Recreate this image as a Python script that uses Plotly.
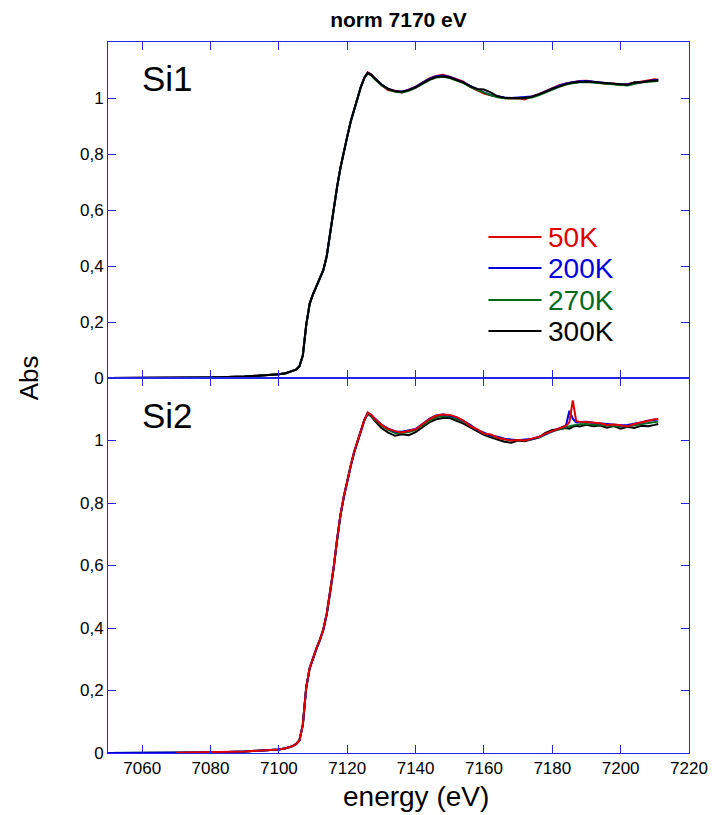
import plotly.graph_objects as go

# ---------------- data ----------------
energy = [7050, 7060, 7070, 7080, 7090, 7095, 7100, 7102, 7104, 7105, 7106, 7107, 7108, 7109,
          7110, 7111, 7112, 7113, 7114, 7115, 7116, 7117, 7118, 7119, 7120, 7121, 7122, 7123,
          7124, 7125, 7126, 7127, 7128, 7130, 7132, 7134, 7136, 7138, 7140, 7142, 7144, 7146,
          7148, 7150, 7152, 7154, 7156, 7158, 7160, 7162, 7164, 7166, 7168, 7170, 7172, 7174,
          7176, 7178, 7180, 7182, 7184, 7185, 7186, 7187, 7188, 7190, 7192, 7194, 7196, 7198,
          7200, 7202, 7204, 7206, 7208, 7210, 7211]

si1_50K = [0.000, 0.000, 0.001, 0.002, 0.005, 0.008, 0.013, 0.017, 0.024, 0.030, 0.042, 0.080, 0.190, 0.265,
           0.300, 0.330, 0.355, 0.386, 0.436, 0.520, 0.590, 0.681, 0.750, 0.811, 0.863, 0.915, 0.959, 1.001,
           1.041, 1.073, 1.092, 1.085, 1.072, 1.046, 1.028, 1.026, 1.020, 1.030, 1.040, 1.055, 1.070, 1.079,
           1.083, 1.076, 1.066, 1.058, 1.040, 1.028, 1.016, 1.010, 1.004, 1.000, 0.998, 0.999, 0.995, 1.006,
           1.014, 1.024, 1.036, 1.046, 1.052, 1.054, 1.057, 1.058, 1.061, 1.062, 1.058, 1.054, 1.050, 1.052,
           1.046, 1.050, 1.054, 1.060, 1.064, 1.067, 1.065]
si1_200K = [0.000, 0.000, 0.001, 0.002, 0.005, 0.008, 0.013, 0.017, 0.024, 0.030, 0.042, 0.079, 0.189, 0.265,
            0.300, 0.330, 0.355, 0.385, 0.435, 0.519, 0.590, 0.680, 0.750, 0.810, 0.862, 0.915, 0.958, 1.000,
            1.040, 1.072, 1.090, 1.084, 1.071, 1.049, 1.032, 1.024, 1.023, 1.029, 1.040, 1.054, 1.068, 1.078,
            1.080, 1.075, 1.066, 1.056, 1.043, 1.030, 1.020, 1.011, 1.006, 1.002, 1.000, 1.001, 1.002, 1.005,
            1.013, 1.024, 1.034, 1.044, 1.052, 1.055, 1.056, 1.058, 1.060, 1.061, 1.059, 1.056, 1.053, 1.050,
            1.048, 1.049, 1.053, 1.058, 1.062, 1.064, 1.064]
si1_270K = [0.000, 0.000, 0.001, 0.002, 0.005, 0.008, 0.013, 0.017, 0.024, 0.030, 0.042, 0.080, 0.190, 0.265,
            0.300, 0.330, 0.355, 0.385, 0.435, 0.520, 0.590, 0.680, 0.750, 0.810, 0.862, 0.915, 0.958, 1.000,
            1.040, 1.071, 1.088, 1.081, 1.068, 1.046, 1.031, 1.022, 1.020, 1.026, 1.036, 1.050, 1.064, 1.073,
            1.076, 1.071, 1.062, 1.053, 1.040, 1.028, 1.019, 1.010, 1.003, 0.999, 0.998, 0.998, 0.999, 1.002,
            1.010, 1.020, 1.031, 1.040, 1.048, 1.051, 1.053, 1.054, 1.056, 1.057, 1.055, 1.053, 1.050, 1.047,
            1.045, 1.045, 1.050, 1.056, 1.058, 1.060, 1.061]
si1_300K = [0.000, 0.000, 0.001, 0.002, 0.005, 0.008, 0.013, 0.017, 0.024, 0.030, 0.042, 0.080, 0.190, 0.265,
            0.300, 0.330, 0.355, 0.385, 0.435, 0.520, 0.590, 0.680, 0.750, 0.810, 0.862, 0.915, 0.958, 1.000,
            1.040, 1.072, 1.090, 1.082, 1.070, 1.048, 1.033, 1.024, 1.022, 1.028, 1.038, 1.052, 1.066, 1.075,
            1.078, 1.073, 1.064, 1.055, 1.042, 1.032, 1.030, 1.020, 1.006, 1.001, 1.000, 1.000, 1.001, 1.004,
            1.012, 1.022, 1.033, 1.042, 1.050, 1.053, 1.055, 1.056, 1.058, 1.059, 1.057, 1.055, 1.052, 1.049,
            1.047, 1.047, 1.056, 1.055, 1.060, 1.062, 1.063]

si2_50K = [None, None, 0.001, 0.002, 0.005, 0.008, 0.011, 0.015, 0.022, 0.028, 0.040, 0.090, 0.210, 0.272,
           0.306, 0.336, 0.363, 0.396, 0.446, 0.512, 0.592, 0.682, 0.761, 0.821, 0.873, 0.919, 0.963, 0.999,
           1.033, 1.066, 1.090, 1.082, 1.070, 1.050, 1.037, 1.030, 1.026, 1.031, 1.036, 1.052, 1.068, 1.079,
           1.083, 1.082, 1.075, 1.064, 1.046, 1.036, 1.022, 1.019, 1.009, 1.004, 1.000, 1.002, 1.000, 1.006,
           1.011, 1.022, 1.030, 1.040, 1.047, 1.058, 1.128, 1.062, 1.060, 1.059, 1.058, 1.055, 1.050, 1.051,
           1.049, 1.045, 1.053, 1.058, 1.064, 1.068, 1.069]
si2_200K = [0.000, 0.000, 0.001, 0.002, 0.005, 0.008, 0.011, 0.015, 0.022, 0.028, 0.040, 0.090, 0.209, 0.271,
            0.305, 0.335, 0.362, 0.395, 0.445, 0.511, 0.591, 0.681, 0.760, 0.820, 0.872, 0.918, 0.962, 0.998,
            1.032, 1.065, 1.088, 1.083, 1.071, 1.051, 1.038, 1.029, 1.028, 1.032, 1.037, 1.053, 1.069, 1.080,
            1.083, 1.080, 1.074, 1.063, 1.050, 1.034, 1.025, 1.016, 1.012, 1.006, 1.003, 1.001, 1.003, 1.005,
            1.011, 1.021, 1.031, 1.039, 1.047, 1.095, 1.070, 1.058, 1.059, 1.060, 1.057, 1.055, 1.053, 1.050,
            1.049, 1.050, 1.053, 1.058, 1.063, 1.066, 1.068]
si2_270K = [0.000, 0.000, 0.001, 0.002, 0.005, 0.008, 0.011, 0.015, 0.022, 0.028, 0.040, 0.090, 0.210, 0.272,
            0.305, 0.335, 0.362, 0.395, 0.445, 0.510, 0.590, 0.680, 0.760, 0.820, 0.872, 0.918, 0.962, 0.998,
            1.032, 1.065, 1.086, 1.079, 1.067, 1.047, 1.034, 1.024, 1.024, 1.027, 1.033, 1.048, 1.063, 1.074,
            1.078, 1.078, 1.070, 1.060, 1.046, 1.033, 1.022, 1.015, 1.009, 1.004, 1.001, 1.000, 1.001, 1.004,
            1.009, 1.019, 1.029, 1.036, 1.043, 1.046, 1.048, 1.050, 1.052, 1.053, 1.052, 1.051, 1.048, 1.046,
            1.045, 1.046, 1.049, 1.053, 1.057, 1.060, 1.061]
si2_300K = [0.000, 0.000, 0.001, 0.002, 0.005, 0.008, 0.011, 0.015, 0.022, 0.028, 0.040, 0.090, 0.208, 0.270,
            0.304, 0.334, 0.361, 0.394, 0.444, 0.510, 0.590, 0.680, 0.759, 0.819, 0.871, 0.917, 0.961, 0.997,
            1.031, 1.064, 1.086, 1.077, 1.064, 1.040, 1.025, 1.015, 1.020, 1.017, 1.027, 1.042, 1.058, 1.068,
            1.072, 1.072, 1.064, 1.054, 1.042, 1.030, 1.018, 1.010, 1.004, 0.996, 0.993, 1.000, 0.998, 1.004,
            1.010, 1.024, 1.034, 1.036, 1.040, 1.038, 1.044, 1.047, 1.045, 1.050, 1.046, 1.048, 1.041, 1.046,
            1.038, 1.044, 1.040, 1.047, 1.046, 1.050, 1.053]

series_names = ["50K", "200K", "270K", "300K"]
series_colors = ["#e00000", "#0000e0", "#006b1e", "#000000"]
panel_labels = ["Si1", "Si2"]
x_tickvals = [7060, 7080, 7100, 7120, 7140, 7160, 7180, 7200, 7220]
y_tickvals = [0, 0.2, 0.4, 0.6, 0.8, 1.0]
y_ticktext = ["0", "0,2", "0,4", "0,6", "0,8", "1"]

# ---------------- figure ----------------
W, H = 720, 815
L, R, T, B = 108, 21, 42, 62
plot_w = W - L - R
plot_h = H - T - B
split = 375 / plot_h  # boundary between panels (paper fraction)

AXC = "#2525e6"
FONT = "Liberation Sans, Arial, Helvetica, sans-serif"
TICKFONT = dict(family=FONT, size=17, color="black")


def px(xs):
    """pixel x -> paper x"""
    return (xs - L) / plot_w


def py(ys):
    """pixel y -> paper y"""
    return (H - B - ys) / plot_h


fig = go.Figure()

si1 = [si1_50K, si1_200K, si1_270K, si1_300K]
si2 = [si2_50K, si2_200K, si2_270K, si2_300K]

# top panel: black drawn last
for i in [0, 1, 2, 3]:
    fig.add_trace(go.Scatter(x=energy, y=si1[i], mode="lines", name=series_names[i],
                             line=dict(color=series_colors[i], width=2), showlegend=False,
                             xaxis="x", yaxis="y"))
# bottom panel: red drawn last
for i in [3, 2, 1, 0]:
    fig.add_trace(go.Scatter(x=energy, y=si2[i], mode="lines", name=series_names[i],
                             line=dict(color=series_colors[i], width=2), showlegend=False,
                             xaxis="x2", yaxis="y2"))

common_x = dict(range=[7050, 7220], tickvals=x_tickvals, ticks="inside", ticklen=8, tickwidth=1,
                tickcolor=AXC, showline=True, linecolor=AXC, linewidth=1, mirror="ticks",
                showgrid=False, zeroline=False, tickfont=TICKFONT)
common_y = dict(tickvals=y_tickvals, ticktext=y_ticktext, ticks="inside", ticklen=8, tickwidth=1,
                tickcolor=AXC, showline=True, linecolor=AXC, linewidth=1, mirror="ticks",
                showgrid=False, zeroline=False, tickfont=TICKFONT)

fig.update_layout(
    width=W, height=H,
    margin=dict(l=L, r=R, t=T, b=B),
    paper_bgcolor="white", plot_bgcolor="white",
    showlegend=False,
    xaxis=dict(domain=[0, 1], anchor="y", showticklabels=False, **common_x),
    yaxis=dict(domain=[split, 1], anchor="x", range=[0, 1.2], **common_y),
    xaxis2=dict(domain=[0, 1], anchor="y2", showticklabels=True, **common_x),
    yaxis2=dict(domain=[0, split], anchor="x2", range=[0, 1.2], **common_y),
    title=dict(text="<b>norm 7170 eV</b>", x=0.5, xref="paper", xanchor="center",
               y=1 - 20 / H, yref="container", yanchor="middle",
               font=dict(family=FONT, size=21, color="black")),
)

annotations = []
annotations.append(dict(text="energy (eV)", xref="paper", yref="paper", x=px(421), y=py(796),
                        showarrow=False, xanchor="center", yanchor="middle",
                        font=dict(family=FONT, size=28, color="black")))
annotations.append(dict(text="Abs", xref="paper", yref="paper", x=px(28), y=py(378),
                        textangle=-90, showarrow=False, xanchor="center", yanchor="middle",
                        font=dict(family=FONT, size=26, color="black")))
for lab, yc in zip(panel_labels, [78, 416]):
    annotations.append(dict(text=lab, xref="paper", yref="paper", x=px(141), y=py(yc),
                            showarrow=False, xanchor="left", yanchor="middle",
                            font=dict(family=FONT, size=35, color="black")))

shapes = []
legend_y = [237, 268, 300, 331]
for name, col, yy in zip(series_names, series_colors, legend_y):
    shapes.append(dict(type="line", xref="paper", yref="paper", x0=px(495), x1=px(549),
                       y0=py(yy), y1=py(yy), line=dict(color=col, width=2)))
    annotations.append(dict(text=name, xref="paper", yref="paper", x=px(554), y=py(yy),
                            showarrow=False, xanchor="left", yanchor="middle",
                            font=dict(family=FONT, size=28, color=col)))

fig.update_layout(annotations=annotations, shapes=shapes)

# remove the default 8px page margin so the 720x815 figure fills the window exactly
fig.write_html("out.html", config={"displayModeBar": False},
               post_script="document.body.style.margin='0';")
